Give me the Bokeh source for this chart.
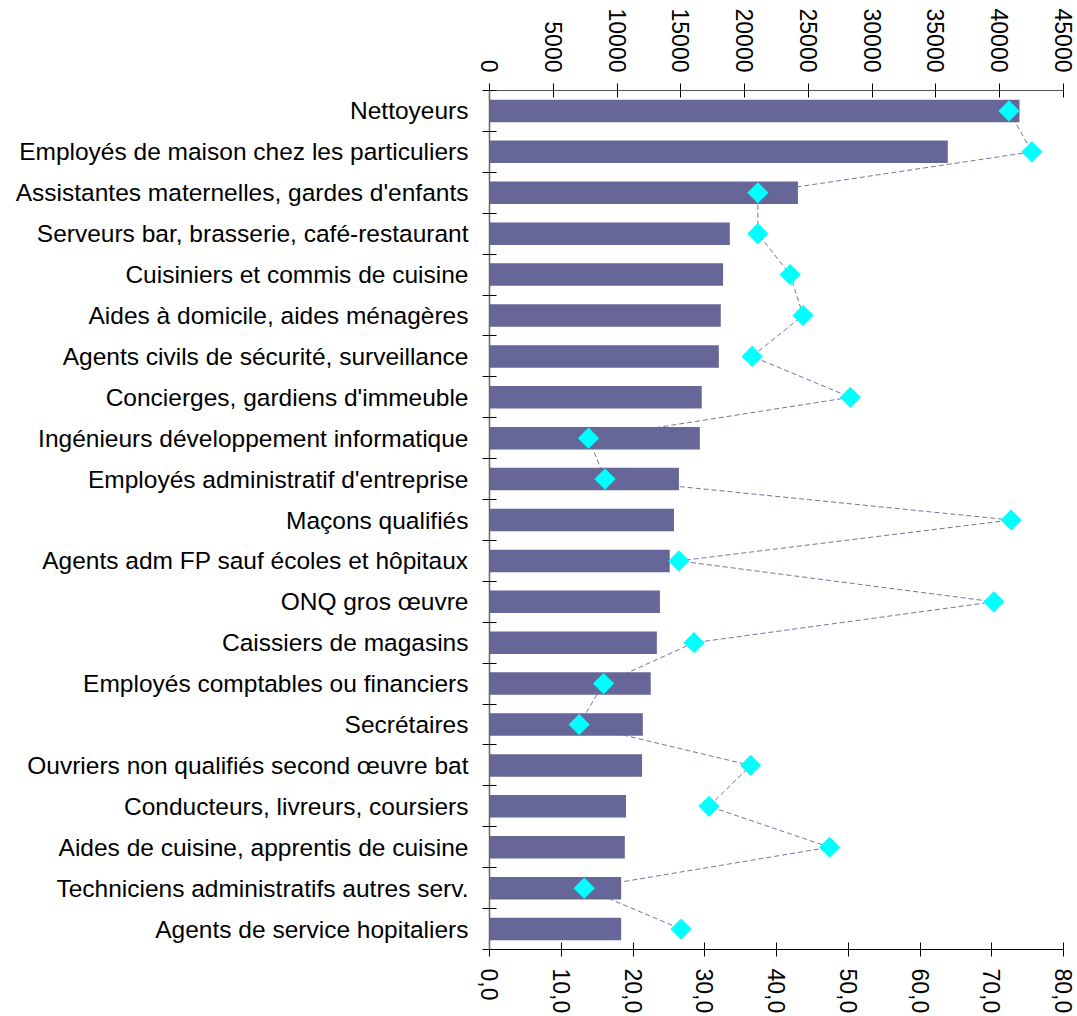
from math import pi
from bokeh.plotting import figure
from bokeh.models import Range1d, LinearAxis, FixedTicker, CustomJSTickFormatter, ColumnDataSource
from bokeh.embed import file_html
from bokeh.resources import INLINE

categories = [
    "Nettoyeurs",
    "Employés de maison chez les particuliers",
    "Assistantes maternelles, gardes d'enfants",
    "Serveurs bar, brasserie, café-restaurant",
    "Cuisiniers et commis de cuisine",
    "Aides à domicile, aides ménagères",
    "Agents civils de sécurité, surveillance",
    "Concierges, gardiens d'immeuble",
    "Ingénieurs développement informatique",
    "Employés administratif d'entreprise",
    "Maçons qualifiés",
    "Agents adm FP sauf écoles et hôpitaux",
    "ONQ gros œuvre",
    "Caissiers de magasins",
    "Employés comptables ou financiers",
    "Secrétaires",
    "Ouvriers non qualifiés second œuvre bat",
    "Conducteurs, livreurs, coursiers",
    "Aides de cuisine, apprentis de cuisine",
    "Techniciens administratifs autres serv.",
    "Agents de service hopitaliers",
]
counts = [41550, 35930, 24180, 18840, 18310, 18130, 17980, 16640, 16490, 14850,
          14460, 14130, 13360, 13120, 12640, 12020, 11960, 10700, 10610, 10320, 10320]
pct = [72.4, 75.6, 37.4, 37.4, 41.9, 43.7, 36.6, 50.3, 13.8, 16.1,
       72.7, 26.4, 70.3, 28.5, 15.9, 12.5, 36.4, 30.6, 47.4, 13.2, 26.7]
top_ticks = [0, 5000, 10000, 15000, 20000, 25000, 30000, 35000, 40000, 45000]
bottom_ticks = [0, 10, 20, 30, 40, 50, 60, 70, 80]

n = len(categories)
ypos = [i + 0.5 for i in range(n)]
src = ColumnDataSource(dict(y=ypos, counts=counts, pct=pct, cat=categories))

FONT = "Liberation Sans"

p = figure(width=1077, height=1016, output_backend="svg", toolbar_location=None,
           x_axis_location="above",
           x_range=Range1d(top_ticks[0], top_ticks[-1]),
           y_range=Range1d(n, 0),
           min_border_left=489, min_border_top=90, min_border_bottom=67, min_border_right=14)
p.extra_x_ranges = {"pct": Range1d(bottom_ticks[0], bottom_ticks[-1])}
p.xgrid.visible = False
p.ygrid.visible = False
p.outline_line_color = None
p.background_fill_color = "white"

# top axis (counts)
ax = p.xaxis[0]
ax.ticker = FixedTicker(ticks=top_ticks)
ax.major_label_orientation = -pi / 2
ax.major_label_text_font = FONT
ax.major_label_text_font_size = "23px"
ax.major_label_text_color = "black"
ax.major_label_standoff = 11
ax.major_tick_in = 7
ax.major_tick_out = 7
ax.minor_tick_line_color = None
ax.axis_line_color = "#555555"
ax.major_tick_line_color = "black"

# bottom axis (percent)
bx = LinearAxis(x_range_name="pct", ticker=FixedTicker(ticks=bottom_ticks),
                formatter=CustomJSTickFormatter(code="return tick.toFixed(1).replace('.', ',');"))
bx.major_label_orientation = -pi / 2
bx.major_label_text_font = FONT
bx.major_label_text_font_size = "23px"
bx.major_label_text_color = "black"
bx.major_label_standoff = 12
bx.major_tick_in = 7
bx.major_tick_out = 7
bx.minor_tick_line_color = None
bx.axis_line_color = "black"
bx.major_tick_line_color = "black"
p.add_layout(bx, "below")

# left category axis
ly = p.yaxis[0]
ly.ticker = FixedTicker(ticks=ypos, minor_ticks=list(range(n + 1)))
ly.major_label_overrides = {y: c for y, c in zip(ypos, categories)}
ly.major_label_text_font = FONT
ly.major_label_text_font_size = "24.5px"
ly.major_label_text_color = "black"
ly.major_label_standoff = 14
ly.major_tick_in = 0
ly.major_tick_out = 0
ly.minor_tick_in = 7
ly.minor_tick_out = 7
ly.minor_tick_line_color = "black"
ly.axis_line_color = "#666666"
ly.axis_line_width = 1.5

p.line(x="pct", y="y", source=src, x_range_name="pct", line_dash="5 3",
       line_color="#7373a6", line_width=1)
p.hbar(y="y", left=0, right="counts", height=0.55, source=src,
       fill_color="#666699", line_color=None)
p.scatter(x="pct", y="y", source=src, x_range_name="pct", marker="square",
          angle=pi / 4, size=15, fill_color="#00ffff", line_color=None)

open("out.html", "w").write(file_html(p, INLINE))
